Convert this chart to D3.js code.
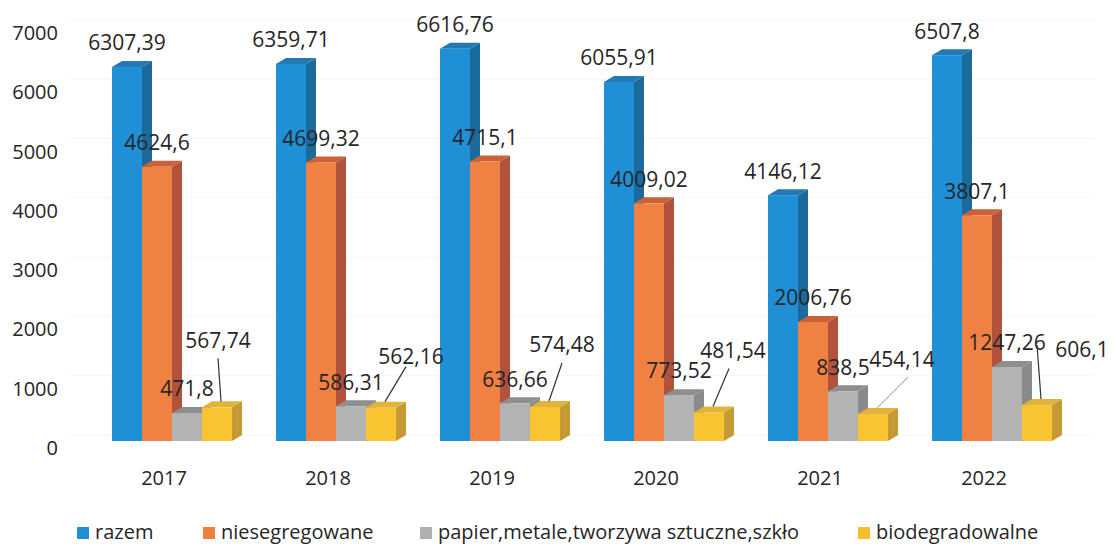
<!DOCTYPE html>
<html>
<head>
<meta charset="utf-8">
<script src="https://cdn.jsdelivr.net/npm/d3@7"></script>
<style>
  body { margin: 0; background: #fff; }
  text { font-family: "Open Sans", sans-serif; fill: #262626; }
</style>
</head>
<body>
<div id="plot"></div>
<script>
// Data
const years = ["2017", "2018", "2019", "2020", "2021", "2022"];
const seriesNames = ["razem", "niesegregowane", "papier,metale,tworzywa sztuczne,szkło", "biodegradowalne"];
const razem = [6307.39, 6359.71, 6616.76, 6055.91, 4146.12, 6507.8];
const niesegregowane = [4624.6, 4699.32, 4715.1, 4009.02, 2006.76, 3807.1];
const papier = [471.8, 586.31, 636.66, 773.52, 838.5, 1247.26];
const biodegradowalne = [567.74, 562.16, 574.48, 481.54, 454.14, 606.1];
const yTicks = [0, 1000, 2000, 3000, 4000, 5000, 6000, 7000];

const width = 1117;
const height = 546;

// 3D look: front / side / top shades for each series
const colors = [
  {front: "#1f8fd6", side: "#1b6a9c", top: "#2479b5", key: "#1f8fd6"},
  {front: "#ef8242", side: "#b0523c", top: "#c9623a", key: "#f08040"},
  {front: "#b3b3b3", side: "#8a8a8a", top: "#8e8e8e", key: "#b0b0b0"},
  {front: "#f8c431", side: "#c59a35", top: "#e2b33a", key: "#f6c02a"}
];
const depth = {dx: 10, dy: -6};

// manual placement of the biodegradowalne labels (like in the original chart)
const bioLabelNudge = [
  {dx: 1, dy: -67, lx: 0, ly: 18, c: "#333"},
  {dx: 30, dy: -51, lx: -5, ly: 10, c: "#333"},
  {dx: 17, dy: -62, lx: 0, ly: 18, c: "#333"},
  {dx: 24, dy: -62, lx: -4, ly: 18, c: "#333"},
  {dx: 29, dy: -54, lx: 6, ly: 17, c: "#b0b0b0"},
  {dx: 45, dy: -55, lx: -45, ly: -5, c: "#333"}
];

// legend swatch positions
const legendX = [77, 203, 420, 858];

const values = [razem, niesegregowane, papier, biodegradowalne];

const svg = d3.select("#plot")
  .append("svg")
  .attr("width", width)
  .attr("height", height);

const x = d3.scaleBand()
  .domain(years)
  .range([90, 1074])
  .paddingInner(0.268)
  .paddingOuter(0.134);

const xInner = d3.scaleBand()
  .domain(d3.range(seriesNames.length))
  .range([0, x.bandwidth()]);

const y = d3.scaleLinear()
  .domain([0, 7000])
  .range([441, 26]);

const fmt = v => String(v).replace(".", ",");

// faint gridlines on the back wall
svg.append("g")
  .selectAll("line")
  .data(yTicks)
  .join("line")
  .attr("x1", 70)
  .attr("x2", 1095)
  .attr("y1", d => y(d) + depth.dy)
  .attr("y2", d => y(d) + depth.dy)
  .attr("stroke", "#f6f6f6")
  .attr("stroke-width", 1);

// y axis labels
svg.append("g")
  .selectAll("text")
  .data(yTicks)
  .join("text")
  .attr("x", 58)
  .attr("y", d => y(d) + 7)
  .attr("dy", "0.35em")
  .attr("text-anchor", "end")
  .style("font-size", "20px")
  .text(d => d);

// x axis labels
svg.append("g")
  .selectAll("text")
  .data(years)
  .join("text")
  .attr("x", d => x(d) + x.bandwidth() / 2 - 8)
  .attr("y", 478)
  .attr("dy", "0.35em")
  .attr("text-anchor", "middle")
  .style("font-size", "20px")
  .text(d => d);

// bars
const bars = svg.append("g");
years.forEach((yr, i) => {
  values.forEach((vals, s) => {
    const x0 = x(yr) + xInner(s);
    const x1 = x0 + xInner.bandwidth();
    const yt = y(vals[i]);
    const yb = y(0);
    const c = colors[s];
    const g = bars.append("g");
    g.append("polygon")
      .attr("points", [[x1, yt], [x1 + depth.dx, yt + depth.dy], [x1 + depth.dx, yb + depth.dy], [x1, yb]].join(" "))
      .attr("fill", c.side);
    g.append("polygon")
      .attr("points", [[x0, yt], [x0 + depth.dx, yt + depth.dy], [x1 + depth.dx, yt + depth.dy], [x1, yt]].join(" "))
      .attr("fill", c.top);
    g.append("rect")
      .attr("x", x0)
      .attr("y", yt)
      .attr("width", x1 - x0)
      .attr("height", yb - yt)
      .attr("fill", c.front);
  });
});

// value labels
const labels = svg.append("g");
years.forEach((yr, i) => {
  values.forEach((vals, s) => {
    const cx = x(yr) + xInner(s) + xInner.bandwidth() / 2;
    const yt = y(vals[i]);
    let lx = cx, ly = yt - 24;
    if (s === 3) {
      const n = bioLabelNudge[i];
      lx = cx + n.dx;
      ly = yt + n.dy;
      labels.append("line")
        .attr("x1", lx + n.lx)
        .attr("y1", ly + n.ly)
        .attr("x2", cx + 4)
        .attr("y2", yt - 6)
        .attr("stroke", n.c)
        .attr("stroke-width", 1.2);
    }
    labels.append("text")
      .attr("x", lx)
      .attr("y", ly)
      .attr("dy", "0.35em")
      .attr("text-anchor", "middle")
      .style("font-size", "21px")
      .text(fmt(vals[i]));
  });
});

// legend
const legend = svg.append("g");
seriesNames.forEach((name, s) => {
  legend.append("rect")
    .attr("x", legendX[s])
    .attr("y", 527)
    .attr("width", 12)
    .attr("height", 12)
    .attr("fill", colors[s].key);
  legend.append("text")
    .attr("x", legendX[s] + 18)
    .attr("y", 532)
    .attr("dy", "0.35em")
    .style("font-size", "20px")
    .text(name);
});
</script>
</body>
</html>
